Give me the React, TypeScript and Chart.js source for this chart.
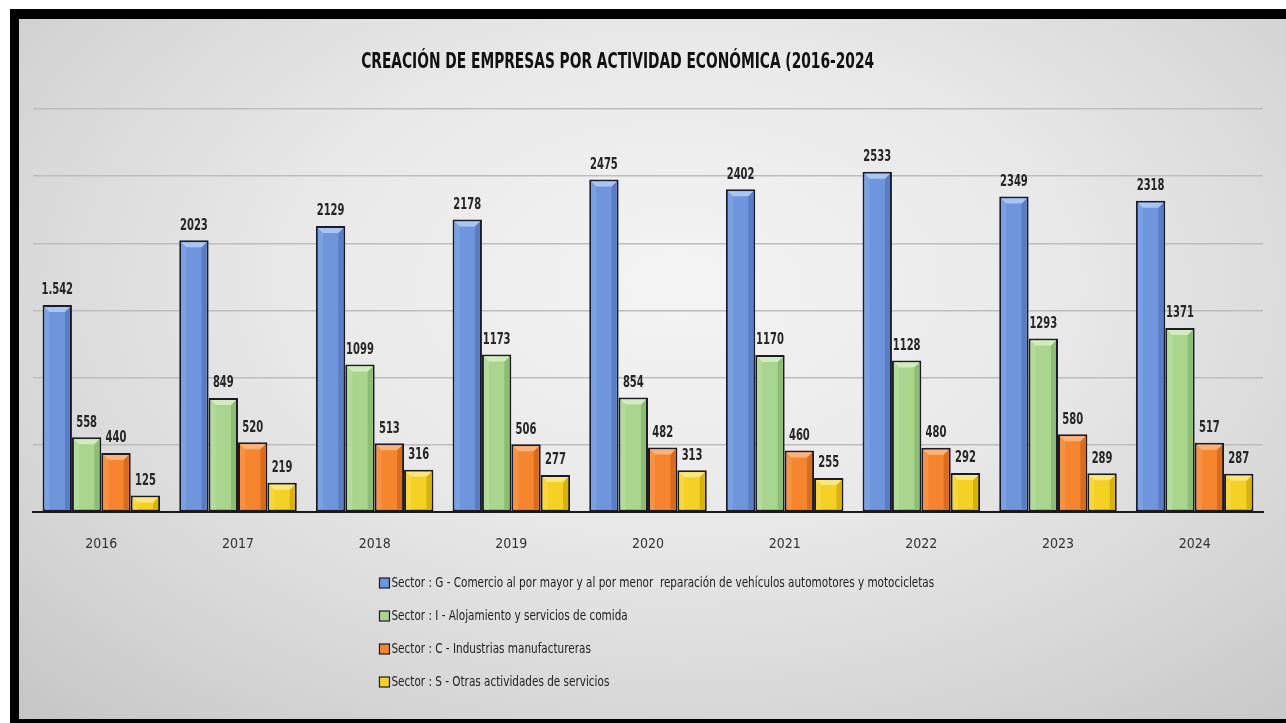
import React, { useEffect, useRef } from "react";
import { Chart, registerables } from "chart.js";

Chart.register(...registerables);

const years = ["2016", "2017", "2018", "2019", "2020", "2021", "2022", "2023", "2024"];
const sectorG = [1542, 2023, 2129, 2178, 2475, 2402, 2533, 2349, 2318];
const sectorGLabels = ["1.542", "2023", "2129", "2178", "2475", "2402", "2533", "2349", "2318"];
const sectorI = [558, 849, 1099, 1173, 854, 1170, 1128, 1293, 1371];
const sectorC = [440, 520, 513, 506, 482, 460, 480, 580, 517];
const sectorS = [125, 219, 316, 277, 313, 255, 292, 289, 287];
const seriesNames = [
  "Sector : G - Comercio al por mayor y al por menor  reparación de vehículos automotores y motocicletas",
  "Sector : I - Alojamiento y servicios de comida",
  "Sector : C - Industrias manufactureras",
  "Sector : S - Otras actividades de servicios",
];
const yMax = 3000;
const yStep = 500;
const titleText = "CREACIÓN DE EMPRESAS POR ACTIVIDAD ECONÓMICA (2016-2024";

const palette = [
  { base: "#6f95dc", light: "#a9c5f2", left: "#7ca1e2", right: "#5a7cc2" },
  { base: "#a9d58e", light: "#d2ebbf", left: "#b3db9a", right: "#8cbd72" },
  { base: "#f5862f", light: "#fab37c", left: "#f79244", right: "#d96c1c" },
  { base: "#f5d025", light: "#fae77f", left: "#f7d640", right: "#d9b20e" },
];

const FONT = "'Liberation Sans Narrow', 'Arial Narrow', 'DejaVu Sans Condensed', sans-serif";
const BORDER = "#1c1c28";

function narrowText(ctx: any, text: string, x: number, y: number, font: string, sx: number, align: string, baseline: string, color: string) {
  ctx.save();
  ctx.translate(x, y);
  ctx.scale(sx, 1);
  ctx.font = font;
  ctx.fillStyle = color;
  ctx.textAlign = align;
  ctx.textBaseline = baseline;
  ctx.fillText(text, 0, 0);
  ctx.restore();
}

const decorPlugin = {
  id: "decor",
  afterDatasetsDraw(chart: any) {
    const ctx = chart.ctx;
    const valueLabels = [sectorGLabels, sectorI.map(String), sectorC.map(String), sectorS.map(String)];
    chart.data.datasets.forEach((ds: any, di: number) => {
      const meta = chart.getDatasetMeta(di);
      const col = palette[di];
      meta.data.forEach((el: any, i: number) => {
        const p = el.getProps(["x", "y", "base", "width"], true);
        const bw = 2;
        const l = p.x - p.width / 2 + bw;
        const r = p.x + p.width / 2 - bw;
        const t = p.y + bw;
        const b = p.base - bw;
        const bev = 5;
        ctx.save();
        ctx.fillStyle = col.left;
        ctx.beginPath();
        ctx.moveTo(l, t);
        ctx.lineTo(l + bev, t + bev);
        ctx.lineTo(l + bev, b);
        ctx.lineTo(l, b);
        ctx.closePath();
        ctx.fill();
        ctx.fillStyle = col.right;
        ctx.beginPath();
        ctx.moveTo(r, t);
        ctx.lineTo(r - bev, t + bev);
        ctx.lineTo(r - bev, b);
        ctx.lineTo(r, b);
        ctx.closePath();
        ctx.fill();
        ctx.fillStyle = col.light;
        ctx.beginPath();
        ctx.moveTo(l, t);
        ctx.lineTo(r, t);
        ctx.lineTo(r - bev, t + bev);
        ctx.lineTo(l + bev, t + bev);
        ctx.closePath();
        ctx.fill();
        ctx.restore();

        narrowText(ctx, valueLabels[di][i], p.x, p.y - 7, `bold 15px ${FONT}`, 0.74, "center", "bottom", "#262626");
      });
    });
  },
  afterDraw(chart: any) {
    const ctx = chart.ctx;
    const w = chart.width;
    narrowText(ctx, titleText, w * 0.4725, 44, `bold 21px ${FONT}`, 0.73, "center", "middle", "#111");
    const lx = w * 0.2845;
    const rows = [564, 597, 630, 663];
    seriesNames.forEach((name, i) => {
      const y = rows[i];
      ctx.save();
      ctx.fillStyle = palette[i].base;
      ctx.fillRect(lx, y - 5, 10, 10);
      ctx.strokeStyle = BORDER;
      ctx.lineWidth = 1.2;
      ctx.strokeRect(lx, y - 5, 10, 10);
      ctx.restore();
      narrowText(ctx, name, lx + 12, y, `14px ${FONT}`, 0.83, "left", "middle", "#222");
    });
  },
};

export default function App() {
  const ref = useRef<HTMLCanvasElement | null>(null);

  useEffect(() => {
    if (!ref.current) return;
    const all = [sectorG, sectorI, sectorC, sectorS];
    const chart = new Chart(ref.current, {
      type: "bar",
      data: {
        labels: years,
        datasets: all.map((vals, i) => ({
          label: seriesNames[i],
          data: vals,
          backgroundColor: palette[i].base,
          borderColor: BORDER,
          borderWidth: 2,
          borderSkipped: false,
          categoryPercentage: 0.86,
          barPercentage: 1.0,
        })),
      },
      options: {
        responsive: false,
        animation: false,
        devicePixelRatio: 1,
        layout: { padding: { top: 90, left: 14, right: 23, bottom: 142 } },
        plugins: {
          legend: { display: false },
          title: { display: false },
          tooltip: { enabled: false },
        },
        scales: {
          x: {
            grid: { display: false, drawTicks: false },
            border: { display: true, color: "#1a1a1a", width: 2 },
            ticks: {
              padding: 24,
              color: "#333",
              font: { family: FONT, size: 14 },
            },
          },
          y: {
            min: 0,
            max: yMax,
            ticks: { display: false, stepSize: yStep },
            grid: { color: "#bdbdbd", lineWidth: 1.5, drawTicks: false },
            border: { display: false },
          },
        },
      },
      plugins: [decorPlugin],
    });
    return () => chart.destroy();
  }, []);

  return (
    <div style={{ position: "fixed", left: 0, top: 0, width: 1286, height: 723, background: "#fff", overflow: "hidden" }}>
      <div
        style={{
          position: "absolute",
          left: 10,
          top: 9,
          width: 1276,
          height: 714,
          boxSizing: "border-box",
          borderLeft: "9px solid #000",
          borderTop: "10px solid #000",
          borderBottom: "4px solid #000",
          background: "radial-gradient(ellipse 75% 85% at 52% 38%, #f4f4f4 0%, #e9e9e9 40%, #d6d6d6 75%, #c6c6c6 100%)",
        }}
      >
        <canvas ref={ref} width={1267} height={700} style={{ display: "block", width: 1267, height: 700 }} />
      </div>
    </div>
  );
}
